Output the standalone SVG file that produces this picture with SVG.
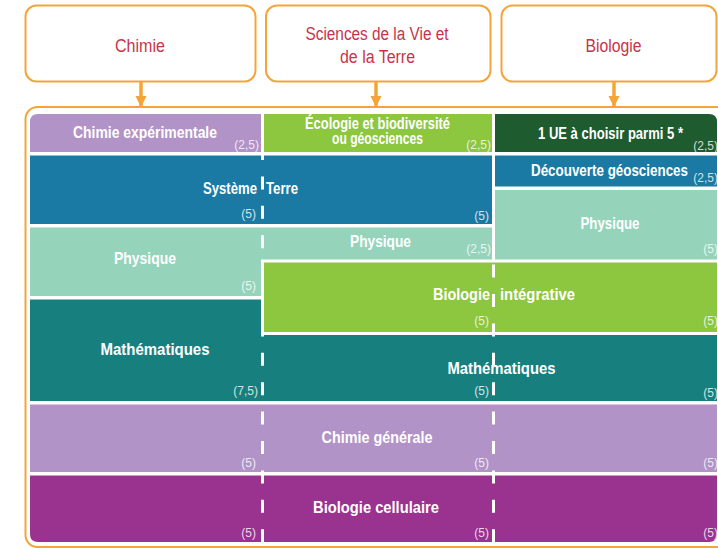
<svg xmlns="http://www.w3.org/2000/svg" width="718" height="548" viewBox="0 0 718 548">
<defs>
<style>
.hdr{fill:#fff;stroke:#F3A53A;stroke-width:2}
.ttl{font-family:"Liberation Sans Narrow","Liberation Sans",Arial,sans-serif;font-size:18px;fill:#C7344A;text-anchor:middle}
.lbl{font-family:"Liberation Sans Narrow","Liberation Sans",Arial,sans-serif;font-size:17px;font-weight:bold;fill:#fff;text-anchor:middle}
.num{font-family:"Liberation Sans Narrow","Liberation Sans",Arial,sans-serif;font-size:12px;fill:#fff;fill-opacity:0.8;text-anchor:end}
.lilac{fill:#B193C7}
.green{fill:#8DC63F}
.dkgreen{fill:#1E5B2E}
.blue{fill:#1B7AA3}
.ltgreen{fill:#95D3BB}
.teal{fill:#187F7F}
.purple{fill:#9A3290}
.dash{stroke:#fff;stroke-width:3;stroke-dasharray:13 16.4;fill:none}
</style>
<marker id="ah" viewBox="0 0 10 10" refX="9" refY="5" markerWidth="3.2" markerHeight="4" orient="auto" markerUnits="strokeWidth">
<path d="M0,0 L10,5 L0,10 Z" fill="#F3A53A"/>
</marker>
</defs>
<rect width="718" height="548" fill="#fff"/>

<g id="box-chimie">
<rect class="hdr" x="25.5" y="5.5" width="230" height="76" rx="11"/>
<text class="ttl" x="140" y="52" textLength="50" lengthAdjust="spacingAndGlyphs">Chimie</text>
</g>
<g id="box-svt">
<rect class="hdr" x="266" y="5.5" width="224.5" height="76" rx="11"/>
<text class="ttl" x="377" y="40" textLength="143" lengthAdjust="spacingAndGlyphs">Sciences de la Vie et</text>
<text class="ttl" x="377.5" y="62.5" textLength="75" lengthAdjust="spacingAndGlyphs">de la Terre</text>
</g>
<g id="box-biologie">
<rect class="hdr" x="501.5" y="5.5" width="215" height="76" rx="11"/>
<text class="ttl" x="613.5" y="52" textLength="56" lengthAdjust="spacingAndGlyphs">Biologie</text>
</g>

<g id="container">
<rect x="25.5" y="107" width="720" height="440" rx="12" fill="#fff" stroke="#F3A53A" stroke-width="2"/>
</g>

<g id="connectors" stroke="#F3A53A" stroke-width="3.5" fill="none">
<line x1="141" y1="82" x2="141" y2="106" marker-end="url(#ah)"/>
<line x1="376" y1="82" x2="376" y2="106" marker-end="url(#ah)"/>
<line x1="614" y1="82" x2="614" y2="106" marker-end="url(#ah)"/>
</g>

<g id="chimie-exp">
<path class="lilac" d="M30,122 Q30,114 38,114 H261 V152 H30 Z"/>
<text class="lbl" x="145" y="138" textLength="144" lengthAdjust="spacingAndGlyphs">Chimie expérimentale</text>
<text class="num" x="259" y="149">(2,5)</text>
</g>
<g id="ecologie">
<rect class="green" x="264" y="114" width="228" height="38"/>
<text class="lbl" x="377.5" y="129" font-size="14.5" textLength="145" lengthAdjust="spacingAndGlyphs">Écologie et biodiversité</text>
<text class="lbl" x="377.5" y="144" font-size="14.5" textLength="91" lengthAdjust="spacingAndGlyphs">ou géosciences</text>
<text class="num" x="491" y="149">(2,5)</text>
</g>
<g id="ue-choix">
<path class="dkgreen" d="M495,114 H709 Q717,114 717,122 V152 H495 Z"/>
<text class="lbl" x="610.5" y="139" textLength="145" lengthAdjust="spacingAndGlyphs">1 UE à choisir parmi 5 *</text>
<text class="num" x="718" y="150">(2,5)</text>
</g>

<g id="systeme-terre">
<rect class="blue" x="30" y="155.5" width="462" height="68.5"/>
<text class="lbl" x="257" y="194" style="text-anchor:end" textLength="54" lengthAdjust="spacingAndGlyphs">Système</text>
<text class="lbl" x="266" y="194" style="text-anchor:start" textLength="32" lengthAdjust="spacingAndGlyphs">Terre</text>
<text class="num" x="256" y="218">(5)</text>
<text class="num" x="489" y="220">(5)</text>
</g>
<g id="decouverte">
<rect class="blue" x="495" y="155.5" width="222" height="31"/>
<text class="lbl" x="609.5" y="176" textLength="157" lengthAdjust="spacingAndGlyphs">Découverte géosciences</text>
<text class="num" x="718" y="182">(2,5)</text>
</g>

<g id="physique-gauche-milieu">
<path class="ltgreen" d="M30,227.5 H492 V259.5 H261 V296 H30 Z"/>
<text class="lbl" x="145" y="264" textLength="62" lengthAdjust="spacingAndGlyphs">Physique</text>
<text class="num" x="256" y="290">(5)</text>
<text class="lbl" x="380.5" y="247" textLength="61" lengthAdjust="spacingAndGlyphs">Physique</text>
<text class="num" x="491" y="253">(2,5)</text>
</g>
<g id="physique-droite">
<rect class="ltgreen" x="495" y="190" width="222" height="69.5"/>
<text class="lbl" x="610" y="229" textLength="59" lengthAdjust="spacingAndGlyphs">Physique</text>
<text class="num" x="718" y="253">(5)</text>
</g>

<g id="biologie-integrative">
<rect class="green" x="264" y="262.5" width="453" height="69.5"/>
<text class="lbl" x="490" y="300" style="text-anchor:end" textLength="57" lengthAdjust="spacingAndGlyphs">Biologie</text>
<text class="lbl" x="500" y="300" style="text-anchor:start" textLength="75" lengthAdjust="spacingAndGlyphs">intégrative</text>
<text class="num" x="489" y="325">(5)</text>
<text class="num" x="718" y="325">(5)</text>
</g>

<g id="mathematiques">
<path class="teal" d="M30,299.5 H261 V335 H717 V401 H30 Z"/>
<text class="lbl" x="155" y="355" textLength="109" lengthAdjust="spacingAndGlyphs">Mathématiques</text>
<text class="num" x="258" y="395">(7,5)</text>
<text class="lbl" x="501.5" y="374" textLength="108" lengthAdjust="spacingAndGlyphs">Mathématiques</text>
<text class="num" x="489" y="395">(5)</text>
<text class="num" x="718" y="397">(5)</text>
</g>

<g id="chimie-generale">
<rect class="lilac" x="30" y="404.5" width="687" height="67.5"/>
<text class="lbl" x="377" y="443" textLength="111" lengthAdjust="spacingAndGlyphs">Chimie générale</text>
<text class="num" x="256" y="467">(5)</text>
<text class="num" x="489" y="467">(5)</text>
<text class="num" x="718" y="467">(5)</text>
</g>

<g id="biologie-cellulaire">
<path class="purple" d="M30,475.5 H717 V534 Q717,542 709,542 H38 Q30,542 30,534 Z"/>
<text class="lbl" x="376" y="513" textLength="126" lengthAdjust="spacingAndGlyphs">Biologie  cellulaire</text>
<text class="num" x="256" y="537">(5)</text>
<text class="num" x="489" y="537">(5)</text>
<text class="num" x="718" y="537">(5)</text>
</g>

<g id="separateurs">
<line class="dash" x1="262.5" y1="147" x2="262.5" y2="545"/>
<line class="dash" x1="493.5" y1="264.6" x2="493.5" y2="545"/>
</g>
</svg>
